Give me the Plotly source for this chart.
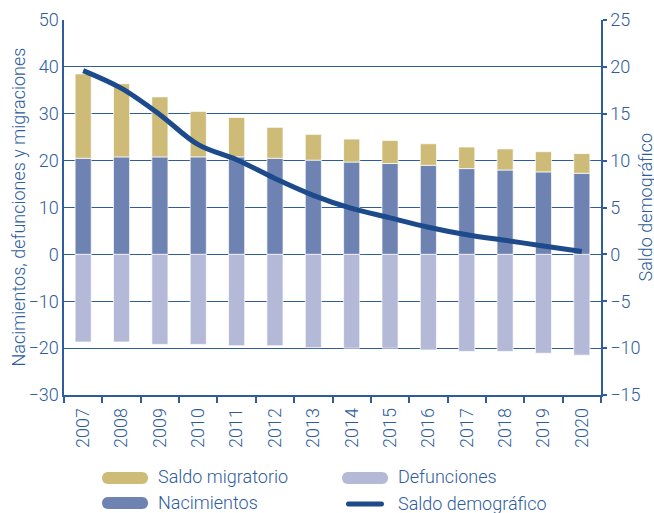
import plotly.graph_objects as go

years = ["2007", "2008", "2009", "2010", "2011", "2012", "2013",
         "2014", "2015", "2016", "2017", "2018", "2019", "2020"]
nacimientos = [20.5, 20.8, 20.8, 20.8, 20.8, 20.5, 20.1,
               19.7, 19.4, 19.0, 18.3, 18.0, 17.6, 17.3]
saldo_migratorio = [18.0, 15.6, 12.8, 9.7, 8.4, 6.6, 5.5,
                    4.9, 4.9, 4.6, 4.6, 4.5, 4.3, 4.2]
defunciones = [-18.7, -18.7, -19.2, -19.2, -19.5, -19.5, -19.9,
               -20.0, -20.0, -20.4, -20.7, -20.7, -21.1, -21.5]
saldo_demografico = [19.6, 17.7, 14.9, 11.7, 10.1, 8.1, 6.3,
                     4.9, 3.9, 2.9, 2.1, 1.5, 0.9, 0.3]

BLUE = "#2E5C9E"
C_MIG = "#CDBB77"
C_NAC = "#6F83B3"
C_DEF = "#B5B9D8"
C_LINE = "#1D4A8B"
FONT = "Roboto, Liberation Sans, Arial, sans-serif"

bar_line = dict(color="rgba(255,255,255,0.7)", width=1)

fig = go.Figure()
fig.add_trace(go.Bar(x=years, y=nacimientos, name="Nacimientos",
                     marker=dict(color=C_NAC, line=bar_line), width=0.42))
fig.add_trace(go.Bar(x=years, y=saldo_migratorio, name="Saldo migratorio",
                     marker=dict(color=C_MIG, line=bar_line), width=0.42))
fig.add_trace(go.Bar(x=years, y=defunciones, name="Defunciones",
                     marker=dict(color=C_DEF, line=bar_line), width=0.42))
fig.add_trace(go.Scatter(x=years, y=saldo_demografico, name="Saldo demográfico",
                         mode="lines", yaxis="y2",
                         line=dict(color=C_LINE, width=5, shape="spline")))

fig.update_layout(
    width=654, height=513,
    margin=dict(l=64, r=53, t=20, b=118),
    barmode="relative",
    showlegend=False,
    plot_bgcolor="white",
    paper_bgcolor="white",
    font=dict(family=FONT, size=18, color=BLUE, weight=300),
    xaxis=dict(type="category", range=[-0.5, 13.5], tickangle=-90,
               ticks="outside", tickson="boundaries", ticklen=6,
               tickcolor=BLUE, tickwidth=1.5, automargin=False,
               ticklabelstandoff=4,
               showline=True, linecolor=BLUE, linewidth=1.5,
               showgrid=False),
    yaxis=dict(range=[-30, 50], dtick=10, showgrid=True, gridcolor=BLUE,
               gridwidth=1.2, zeroline=False, showline=True,
               linecolor=BLUE, linewidth=1.5, ticks="", ticklen=0,
               automargin=False),
    yaxis2=dict(range=[-15, 25], dtick=5, overlaying="y", side="right",
                showgrid=False, zeroline=False, showline=True,
                linecolor=BLUE, linewidth=1.5, ticks="outside",
                ticklen=4, tickcolor=BLUE, tickwidth=1.5,
                automargin=False),
)

# axis titles
fig.add_annotation(text="Nacimientos, defunciones y migraciones",
                   xref="paper", yref="paper", x=0, y=0.5, xshift=-46,
                   textangle=-90, showarrow=False,
                   xanchor="center", yanchor="middle")
fig.add_annotation(text="Saldo demográfico",
                   xref="paper", yref="paper", x=1, y=0.5, xshift=44,
                   textangle=-90, showarrow=False,
                   xanchor="center", yanchor="middle")


# manual legend with rounded symbols
def px_x(v):
    return (v - 64) / 537


def px_y(v):
    return (395 - v) / 375


def pill(cx, cy, w, h, color):
    r = h / 2
    a = w / 2 - r
    k = 4 / 3 * r
    path = (f"M {-a},{-r} L {a},{-r} C {a + k},{-r} {a + k},{r} {a},{r} "
            f"L {-a},{r} C {-a - k},{r} {-a - k},{-r} {-a},{-r} Z")
    fig.add_shape(type="path", path=path, xref="paper", yref="paper",
                  xsizemode="pixel", ysizemode="pixel",
                  xanchor=px_x(cx), yanchor=px_y(cy),
                  fillcolor=color, line=dict(width=0))


legend_items = [
    ("Saldo migratorio", C_MIG, 125, 478, 46, 12, 156),
    ("Nacimientos", C_NAC, 125, 503, 46, 12, 156),
    ("Defunciones", C_DEF, 365, 478, 46, 12, 396),
    ("Saldo demográfico", C_LINE, 365, 504, 38, 5, 396),
]
for label, color, cx, cy, w, h, tx in legend_items:
    pill(cx, cy, w, h, color)
    fig.add_annotation(text=label, xref="paper", yref="paper",
                       x=px_x(tx), y=px_y(cy - 1), showarrow=False,
                       xanchor="left", yanchor="middle")

# page body has a default 8px margin; remove it so the figure sits at 0,0
fig.write_html("out.html", config={"displayModeBar": False},
               post_script="document.body.style.margin='0';"
                           "document.body.style.overflow='hidden';")
